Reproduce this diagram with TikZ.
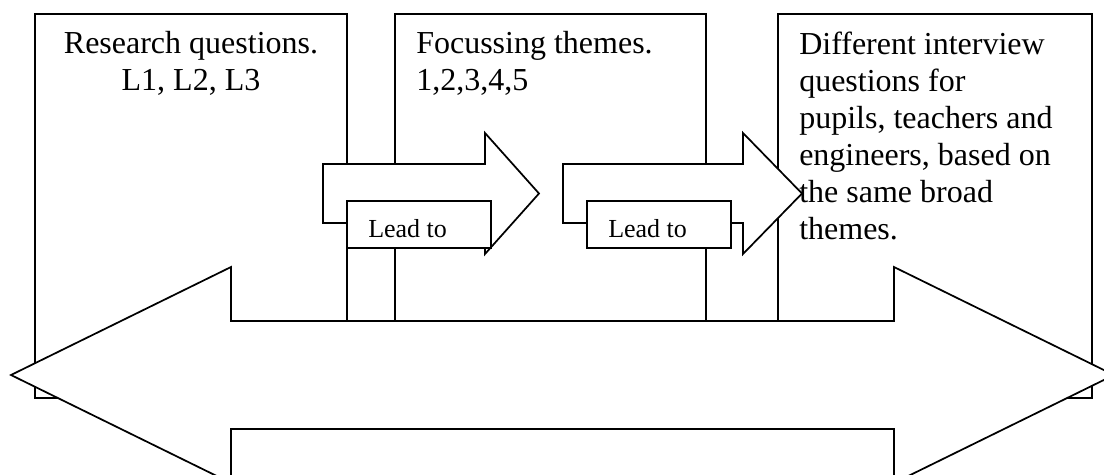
\documentclass[tikz,border=0pt]{standalone}
\usepackage{fontspec}
\setmainfont{Liberation Serif}
\usepackage{tikz}
\usetikzlibrary{positioning}

\begin{document}
\begin{tikzpicture}[x=0.75pt,y=-0.75pt,
  panel/.style={draw, fill=white, line width=1.3pt},
  bigtext/.style={font=\fontsize{24}{27.75}\selectfont, inner sep=0pt},
  leadtext/.style={font=\fontsize{19.5}{22}\selectfont, inner sep=0pt}]
\useasboundingbox (0,0) rectangle (1104,475);
\clip (0,0) rectangle (1104,475);

% Boxes
\draw[panel] (35,14) rectangle (347,398);
\draw[panel] (395,14) rectangle (706,398);
\draw[panel] (778,14) rectangle (1092,398);

% Small arrows
\draw[panel] (323,164) -- (485,164) -- (485,133) -- (539,193.5) -- (485,254) -- (485,223) -- (323,223) -- cycle;
\draw[panel] (563,164) -- (743,164) -- (743,133) -- (802,193.5) -- (743,254) -- (743,223) -- (563,223) -- cycle;

% Lead to boxes
\draw[panel] (347,201) rectangle (491,248);
\draw[panel] (587,201) rectangle (731,248);
\node[leadtext, anchor=base west] (lead1) at (368,237) {Lead to};
\node[leadtext, anchor=base west] (lead2) at (608,237) {Lead to};

% Box texts
\node[bigtext, align=center, anchor=north] (research) at (191,31) {Research questions.\\L1, L2, L3};
\node[bigtext, align=left, anchor=north west] (themes) at (416,31) {Focussing themes.\\1,2,3,4,5};
\node[bigtext, align=left, anchor=north west] (interview) at (799,32) {Different interview\\questions for\\pupils, teachers and\\engineers, based on\\the same broad\\themes.};

% Double arrow
\draw[panel] (11,375) -- (231,267) -- (231,321) -- (894,321) -- (894,267) -- (1114,375) -- (894,483) -- (894,429) -- (231,429) -- (231,483) -- cycle;
\end{tikzpicture}
\end{document}
